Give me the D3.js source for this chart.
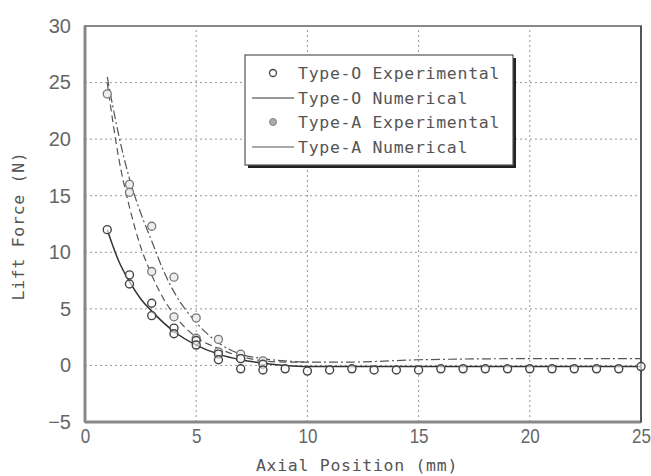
<!DOCTYPE html>
<html>
<head>
<meta charset="utf-8">
<script src="https://cdn.jsdelivr.net/npm/d3@7"></script>
<style>
  body { margin: 0; background: #fff; }
  svg text { fill: #555; }
</style>
</head>
<body>
<svg width="651" height="476"></svg>
<script>
// valeurs (x = position axiale en mm, y = force en N)
const xTicks = [0, 5, 10, 15, 20, 25];
const yTicks = [-5, 0, 5, 10, 15, 20, 25, 30];

const typeOExpX = [1, 2, 2, 3, 3, 4, 4, 5, 5, 6, 6, 7, 7, 8, 8, 9, 10, 11, 12, 13, 14, 15, 16, 17, 18, 19, 20, 21, 22, 23, 24, 25];
const typeOExpY = [12, 7.2, 8.0, 5.5, 4.4, 3.3, 2.8, 2.2, 1.8, 1.0, 0.5, 0.6, -0.3, 0.1, -0.4, -0.3, -0.5, -0.4, -0.3, -0.4, -0.4, -0.4, -0.3, -0.3, -0.3, -0.3, -0.3, -0.3, -0.3, -0.3, -0.3, -0.1];

const typeONumX = [1, 1.5, 2, 2.5, 3, 4, 5, 6, 7, 8, 9, 10, 12, 15, 20, 25];
const typeONumY = [12, 9.3, 7.4, 5.9, 4.8, 3.0, 1.8, 1.0, 0.5, 0.2, 0.0, -0.1, -0.1, -0.1, -0.1, -0.1];

const typeAExpX = [1, 2, 2, 3, 3, 4, 4, 5, 5, 6, 6, 7, 7, 8];
const typeAExpY = [24, 16, 15.3, 12.3, 8.3, 7.8, 4.3, 4.2, 2.4, 2.3, 1.2, 1.0, 0.6, 0.4];

const typeANumX = [1, 1.5, 2, 2.5, 3, 3.5, 4, 5, 6, 7, 8, 9, 10, 12, 15, 20, 25];
const typeANumY = [25.5, 20.5, 16.5, 13.5, 11, 8.5, 6.5, 3.8, 2.0, 1.0, 0.6, 0.4, 0.3, 0.3, 0.5, 0.6, 0.6];

// deuxième courbe tiretée visible sous la première
const typeANum2X = [1, 1.5, 2, 2.5, 3, 3.5, 4, 5, 6, 7, 8, 9, 10];
const typeANum2Y = [25, 18.5, 14, 10.5, 8, 6, 4.5, 2.5, 1.5, 0.8, 0.4, 0.3, 0.3];

const legendLabels = ["Type-O Experimental", "Type-O Numerical", "Type-A Experimental", "Type-A Numerical"];

const svg = d3.select("svg");
const margin = { top: 26, right: 10, bottom: 54, left: 85 };
const x0 = margin.left, x1 = 641, y0 = 422, y1 = margin.top;

const x = d3.scaleLinear().domain([0, 25]).range([x0, x1]);
const y = d3.scaleLinear().domain([-5, 30]).range([y0, y1]);

const numFont = "'Liberation Sans', Arial, sans-serif";
const monoFont = "'DejaVu Sans Mono', 'Liberation Mono', monospace";

// grille pointillée
const grid = svg.append("g");
xTicks.slice(1, -1).forEach(t => {
  grid.append("line")
    .attr("x1", x(t)).attr("x2", x(t)).attr("y1", y0).attr("y2", y1)
    .attr("stroke", "#999").attr("stroke-dasharray", "2,3");
});
yTicks.slice(1, -1).forEach(t => {
  grid.append("line")
    .attr("x1", x0).attr("x2", x1).attr("y1", y(t)).attr("y2", y(t))
    .attr("stroke", "#999").attr("stroke-dasharray", "2,3");
});

// axes (étiquettes seulement)
const xAxis = svg.append("g")
  .attr("transform", `translate(0,${y0})`)
  .call(d3.axisBottom(x).tickValues(xTicks).tickSize(0).tickPadding(7));
xAxis.select(".domain").remove();
xAxis.selectAll("text")
  .attr("font-family", numFont).attr("font-size", 20).style("fill", "#666")
  .attr("transform", "scale(0.85,1)");

const yAxis = svg.append("g")
  .attr("transform", `translate(${x0},0)`)
  .call(d3.axisLeft(y).tickValues(yTicks).tickSize(0).tickPadding(14));
yAxis.select(".domain").remove();
yAxis.selectAll("text")
  .attr("font-family", numFont).attr("font-size", 20).style("fill", "#666");

// cadre
svg.append("rect")
  .attr("x", x0).attr("y", y1).attr("width", x1 - x0).attr("height", y0 - y1)
  .attr("fill", "none").attr("stroke", "#888").attr("stroke-width", 2);
svg.append("line").attr("x1", x0).attr("x2", x0).attr("y1", y1).attr("y2", y0)
  .attr("stroke", "#888").attr("stroke-width", 3);
svg.append("line").attr("x1", x0).attr("x2", x1).attr("y1", y0).attr("y2", y0)
  .attr("stroke", "#888").attr("stroke-width", 3);
svg.append("line").attr("x1", x1).attr("x2", x1).attr("y1", y1).attr("y2", y0)
  .attr("stroke", "#555").attr("stroke-width", 2);

// courbes
const line = d3.line().x(d => x(d[0])).y(d => y(d[1])).curve(d3.curveMonotoneX);
const plot = svg.append("g");

plot.append("path").datum(d3.zip(typeONumX, typeONumY))
  .attr("d", line).attr("fill", "none").attr("stroke", "#333").attr("stroke-width", 1.5);
plot.append("path").datum(d3.zip(typeANumX, typeANumY))
  .attr("d", line).attr("fill", "none").attr("stroke", "#555").attr("stroke-width", 1.2)
  .attr("stroke-dasharray", "9,3,2,3");
plot.append("path").datum(d3.zip(typeANum2X, typeANum2Y))
  .attr("d", line).attr("fill", "none").attr("stroke", "#555").attr("stroke-width", 1.2)
  .attr("stroke-dasharray", "7,4");

// points expérimentaux
plot.selectAll(".ptA").data(d3.zip(typeAExpX, typeAExpY)).join("circle")
  .attr("cx", d => x(d[0])).attr("cy", d => y(d[1])).attr("r", 4)
  .attr("fill", "#eee").attr("stroke", "#777").attr("stroke-width", 1.3);
plot.selectAll(".ptO").data(d3.zip(typeOExpX, typeOExpY)).join("circle")
  .attr("cx", d => x(d[0])).attr("cy", d => y(d[1])).attr("r", 4)
  .attr("fill", "#fff").attr("fill-opacity", 0.6).attr("stroke", "#444").attr("stroke-width", 1.4);

// titres des axes
svg.append("text")
  .attr("x", 357).attr("y", 471).attr("text-anchor", "middle")
  .attr("font-family", monoFont).attr("font-size", 16.5).attr("letter-spacing", 0.7)
  .text("Axial Position (mm)");
svg.append("text")
  .attr("transform", "translate(24,226) rotate(-90)").attr("text-anchor", "middle")
  .attr("font-family", monoFont).attr("font-size", 16.5).attr("letter-spacing", 0.7)
  .text("Lift Force (N)");

// légende
const lg = svg.append("g");
lg.append("rect").attr("x", 248).attr("y", 58).attr("width", 268).attr("height", 110).attr("fill", "#222");
lg.append("rect").attr("x", 245).attr("y", 55).attr("width", 268).attr("height", 110)
  .attr("fill", "#fff").attr("stroke", "#555").attr("stroke-width", 1.2);

const rowsY = [73, 98, 122, 147];
legendLabels.forEach((lab, i) => {
  const ry = rowsY[i];
  if (i === 0) {
    lg.append("circle").attr("cx", 273).attr("cy", ry).attr("r", 3.5)
      .attr("fill", "#fff").attr("stroke", "#444").attr("stroke-width", 1.3);
  } else if (i === 2) {
    lg.append("circle").attr("cx", 273).attr("cy", ry).attr("r", 3.5)
      .attr("fill", "#aaa").attr("stroke", "#888").attr("stroke-width", 1);
  } else {
    lg.append("line").attr("x1", 252).attr("x2", 294).attr("y1", ry).attr("y2", ry)
      .attr("stroke", i === 1 ? "#333" : "#555").attr("stroke-width", 1.2);
  }
  lg.append("text").attr("x", 298).attr("y", ry + 6)
    .attr("font-family", monoFont).attr("font-size", 16.5).attr("letter-spacing", 0.7)
    .text(lab);
});
</script>
</body>
</html>
